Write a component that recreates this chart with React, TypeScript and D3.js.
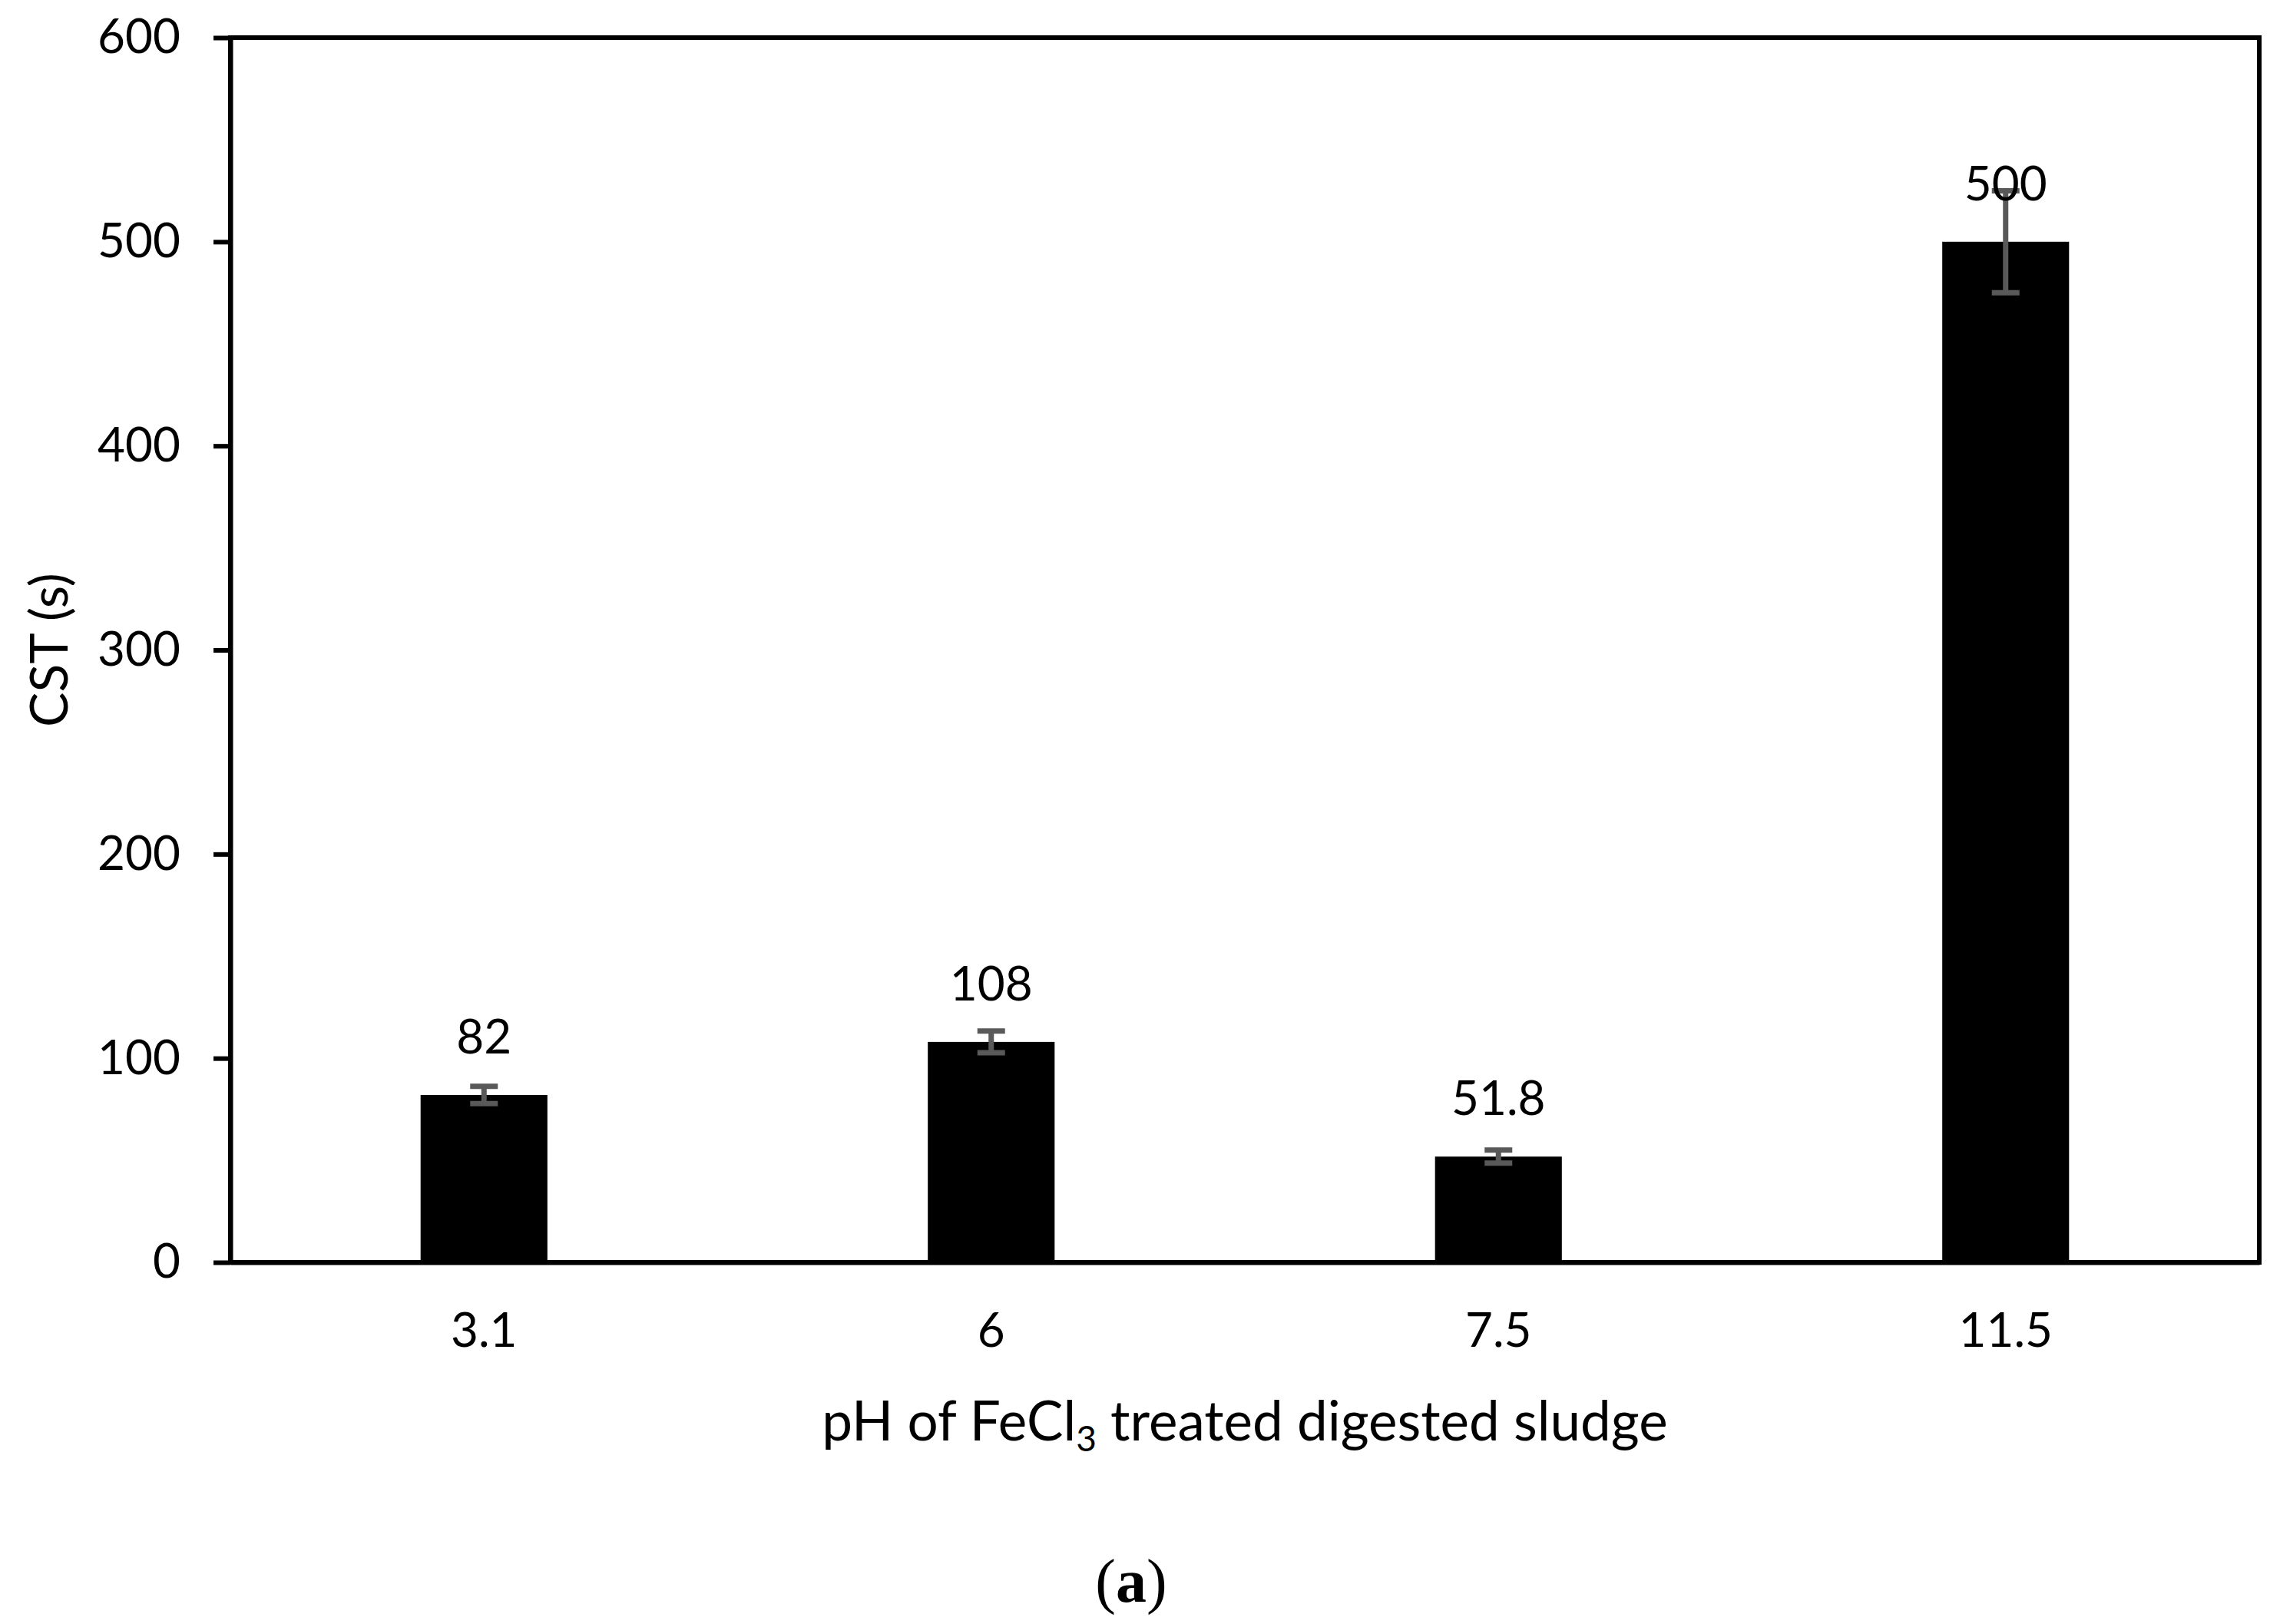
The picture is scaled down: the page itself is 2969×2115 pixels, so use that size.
import { useEffect, useRef } from "react";
import * as d3 from "d3";

// pH values of the FeCl3 treated digested sludge
const categories = ["3.1", "6", "7.5", "11.5"];
// CST values (s)
const cstValues = [82, 108, 51.8, 500];
// error bar half-widths (s)
const cstErrors = [4.2, 5.3, 3.2, 25];
const valueLabels = ["82", "108", "51.8", "500"];
const yTicks = [0, 100, 200, 300, 400, 500, 600];

const W = 2969;
const H = 2115;
const FONT = "Lato, 'Open Sans', sans-serif";

export default function App() {
  const svgRef = useRef<SVGSVGElement>(null);

  useEffect(() => {
    if (!svgRef.current) return;
    d3.select(svgRef.current).selectAll("*").remove();

    const svg = d3.select(svgRef.current).attr("width", W).attr("height", H);

    const margin = { top: 49, right: W - 2942, bottom: H - 1644, left: 300 };
    const innerWidth = W - margin.left - margin.right;
    const innerHeight = H - margin.top - margin.bottom;

    const x = d3.scaleBand().domain(categories).range([0, innerWidth]);
    const y = d3.scaleLinear().domain([0, 600]).range([innerHeight, 0]);
    const barW = x.bandwidth() * 0.25;

    svg.append("rect").attr("width", W).attr("height", H).attr("fill", "#fff");

    const g = svg
      .append("g")
      .attr("transform", `translate(${margin.left},${margin.top})`);

    // bars
    g.selectAll("rect.bar")
      .data(cstValues)
      .enter()
      .append("rect")
      .attr("class", "bar")
      .attr("x", (_, i) => x(categories[i])! + (x.bandwidth() - barW) / 2)
      .attr("y", (d) => y(d))
      .attr("width", barW)
      .attr("height", (d) => innerHeight - y(d))
      .attr("fill", "#000");

    // error bars
    const capW = 36;
    const eb = g
      .selectAll("g.err")
      .data(cstValues)
      .enter()
      .append("g")
      .attr("class", "err")
      .attr("stroke", "#595959")
      .attr("stroke-width", 7);
    eb.append("line")
      .attr("x1", (_, i) => x(categories[i])! + x.bandwidth() / 2)
      .attr("x2", (_, i) => x(categories[i])! + x.bandwidth() / 2)
      .attr("y1", (d, i) => y(d + cstErrors[i]))
      .attr("y2", (d, i) => y(d - cstErrors[i]));
    [1, -1].forEach((s) => {
      eb.append("line")
        .attr("x1", (_, i) => x(categories[i])! + x.bandwidth() / 2 - capW / 2)
        .attr("x2", (_, i) => x(categories[i])! + x.bandwidth() / 2 + capW / 2)
        .attr("y1", (d, i) => y(d + s * cstErrors[i]))
        .attr("y2", (d, i) => y(d + s * cstErrors[i]));
    });

    // value labels
    g.selectAll("text.val")
      .data(cstValues)
      .enter()
      .append("text")
      .attr("class", "val")
      .attr("x", (_, i) => x(categories[i])! + x.bandwidth() / 2)
      .attr("y", (d) => y(d) - 54)
      .attr("text-anchor", "middle")
      .attr("font-family", FONT)
      .attr("font-size", 62)
      .attr("fill", "#000")
      .text((_, i) => valueLabels[i]);

    // frame
    g.append("rect")
      .attr("width", innerWidth)
      .attr("height", innerHeight)
      .attr("fill", "none")
      .attr("stroke", "#000")
      .attr("stroke-width", 6);

    // y axis
    const yAxis = g
      .append("g")
      .call(
        d3
          .axisLeft(y)
          .tickValues(yTicks)
          .tickSize(22)
          .tickSizeOuter(0)
          .tickPadding(43)
          .tickFormat(d3.format("d"))
      );
    yAxis.select(".domain").attr("stroke", "#000").attr("stroke-width", 6);
    yAxis.selectAll(".tick line").attr("stroke", "#000").attr("stroke-width", 6);
    yAxis
      .selectAll(".tick text")
      .attr("font-family", FONT)
      .attr("font-size", 62)
      .attr("fill", "#000");

    // x axis
    const xAxis = g
      .append("g")
      .attr("transform", `translate(0,${innerHeight})`)
      .call(d3.axisBottom(x).tickSize(0).tickSizeOuter(0).tickPadding(66));
    xAxis.select(".domain").attr("stroke", "#000").attr("stroke-width", 6);
    xAxis
      .selectAll(".tick text")
      .attr("font-family", FONT)
      .attr("font-size", 62)
      .attr("fill", "#000");

    // axis titles
    svg
      .append("text")
      .attr("transform", `translate(88,${margin.top + innerHeight / 2}) rotate(-90)`)
      .attr("text-anchor", "middle")
      .attr("font-family", FONT)
      .attr("font-size", 68)
      .attr("fill", "#000")
      .text("CST (s)");

    const xt = svg
      .append("text")
      .attr("x", margin.left + innerWidth / 2)
      .attr("y", 1876)
      .attr("text-anchor", "middle")
      .attr("font-family", FONT)
      .attr("font-size", 71)
      .attr("fill", "#000");
    xt.append("tspan").text("pH of FeCl");
    xt.append("tspan").attr("font-size", 46).attr("dy", 14).text("3");
    xt.append("tspan").attr("dy", -14).text(" treated digested sludge");

    // panel label
    const pl = svg
      .append("text")
      .attr("x", 1473)
      .attr("y", 2086)
      .attr("text-anchor", "middle")
      .attr("font-family", "'Liberation Serif', 'DejaVu Serif', serif")
      .attr("font-size", 80)
      .attr("fill", "#000");
    pl.append("tspan").text("(");
    pl.append("tspan").attr("font-weight", "bold").text("a");
    pl.append("tspan").text(")");
  }, []);

  return (
    <svg
      ref={svgRef}
      style={{ position: "absolute", left: 0, top: 0, display: "block" }}
    />
  );
}
